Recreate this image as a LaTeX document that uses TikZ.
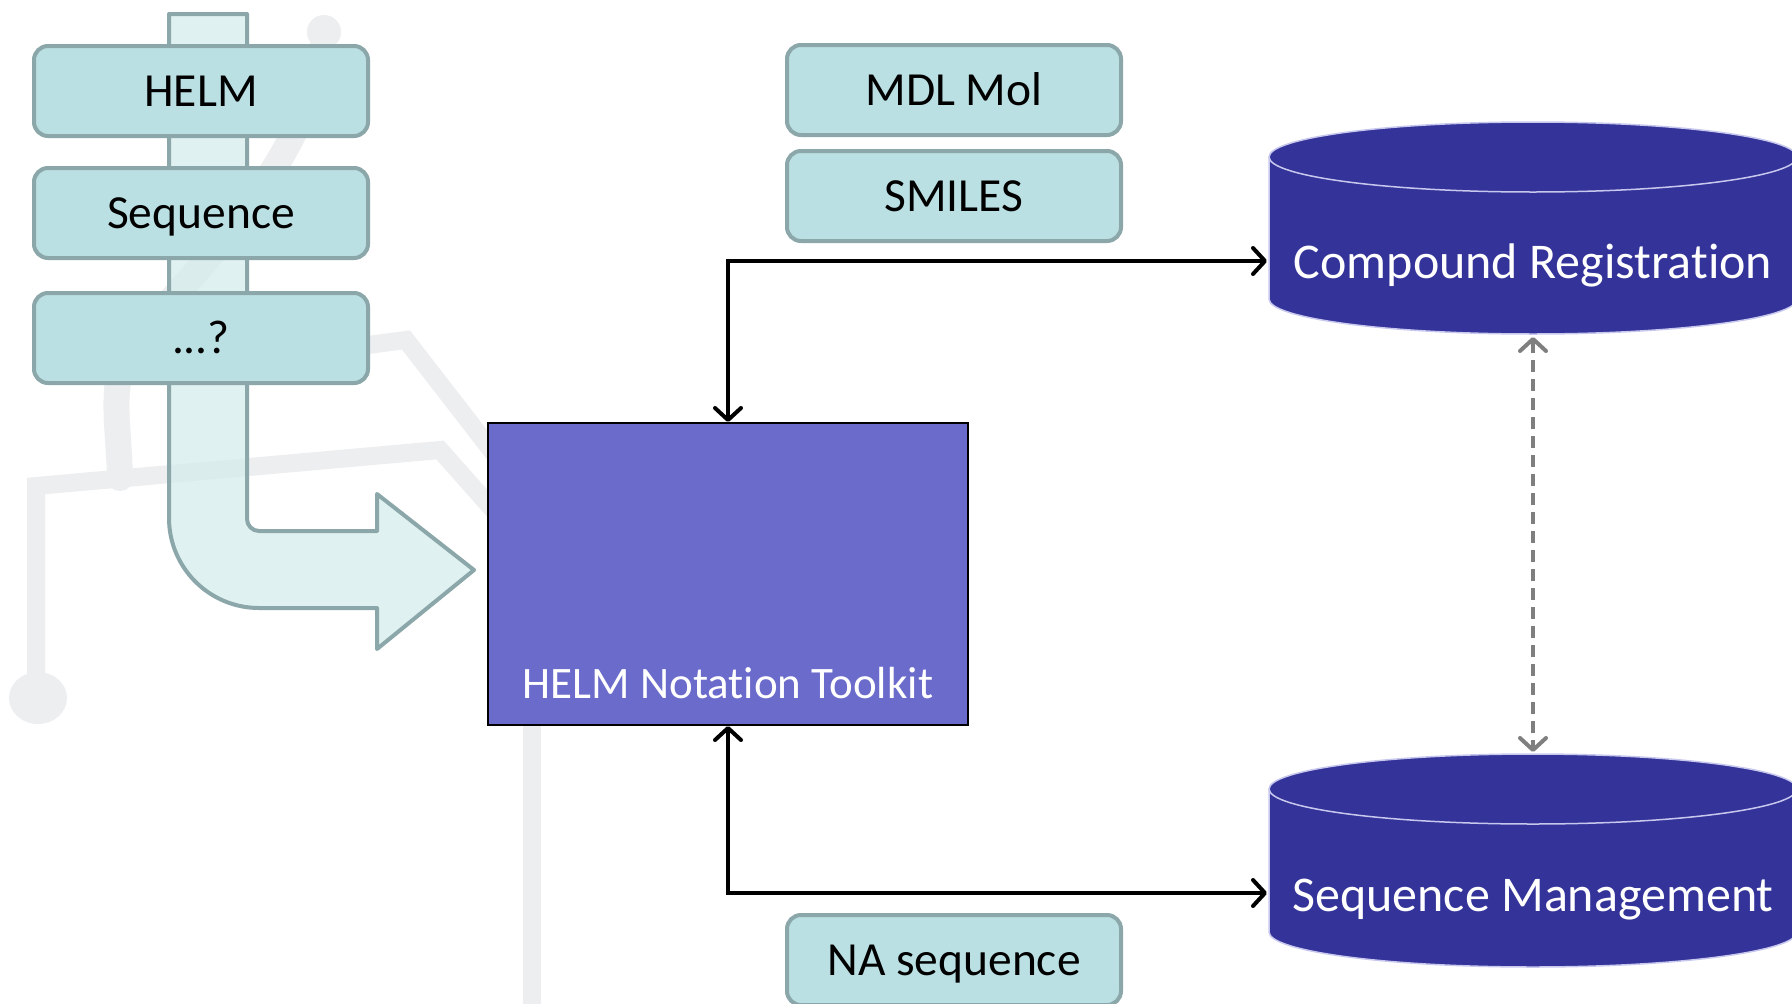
\documentclass[tikz,border=0pt]{standalone}
\usepackage{fontspec}
\setmainfont{Carlito}[RawFeature={-liga;-clig;-calt;-dlig}]
\usetikzlibrary{arrows.meta}
\definecolor{tealfill}{HTML}{BAE0E3}
\definecolor{tealline}{HTML}{8BA7A9}
\definecolor{stemfill}{HTML}{D4ECEC}
\definecolor{wmgrey}{HTML}{EDEEF0}
\definecolor{tkfill}{HTML}{6B6BCC}
\definecolor{cylfill}{HTML}{333399}
\definecolor{cyledge}{HTML}{C8C8EE}
\definecolor{dashgrey}{HTML}{7F7F7F}
\newcommand{\nolig}{\kern0pt }
\tikzset{
  fmtbox/.style={draw=tealline, fill=tealfill, line width=4pt, rounded corners=14pt,
    minimum width=334pt, minimum height=90pt, inner sep=0pt, text height=31pt, text depth=0pt,
    font=\fontsize{47.5}{56}\selectfont, text=black},
  wm/.style={draw=wmgrey, line width=18pt},
  conn/.style={draw=black, line width=4pt, {Straight Barb[length=12pt,width=26pt,round]}-{Straight Barb[length=12pt,width=26pt,round]}},
  dconn/.style={draw=dashgrey, line width=4pt, dash pattern=on 12pt off 7pt,
    {Straight Barb[length=12pt,width=26pt,round]}-{Straight Barb[length=12pt,width=26pt,round]}},
  cylbody/.style={fill=cylfill, draw=cyledge, line width=1.5pt},
  cyltext/.style={text=white, font=\fontsize{50}{60}\selectfont, inner sep=0pt, text height=32pt, text depth=0pt},
  tkbox/.style={draw=black, fill=tkfill, line width=2pt, minimum width=480pt, minimum height=302pt, inner sep=0pt},
  tktext/.style={text=white, font=\fontsize{45}{54}\selectfont, inner sep=0pt, text height=29pt, text depth=0pt},
  stem/.style={fill=stemfill, fill opacity=0.7, draw=tealline, line width=4pt, line join=round},
}
\begin{document}
\begin{tikzpicture}[x=1pt, y=-1pt]
\useasboundingbox (0,0) rectangle (1792,1004);
\clip (0,0) rectangle (1792,1004);
\fill[white] (0,0) rectangle (1792,1004);

% faint background watermark
\draw[wm, line width=26pt, line cap=round] (324,30) .. controls (320,140) and (205,265) .. (150,322) .. controls (104,370) and (118,405) .. (120,478);
\fill[wmgrey] (324,32) circle [radius=17];
\draw[wm, line join=miter] (36,690) -- (36,486) -- (440,450) -- (495,512);
\draw[wm] (360,346) -- (406,340) -- (495,455);
\fill[wmgrey] (38,698) ellipse [x radius=29, y radius=26];
\draw[wm] (532,720) -- (532,1010);

% bent arrow with stem
\path[stem] (169,14) -- (247,14) -- (247,519) .. controls (247,525.6) and (252.4,531) .. (259,531)
  -- (377,531) -- (377,494) -- (474,570) -- (377,649) -- (377,608) -- (259,608)
  .. controls (209.3,608) and (169,567.7) .. (169,518) -- cycle;

% format boxes
\node[fmtbox] (helm) at (201,91) {HELM};
\node[fmtbox] (seq) at (201,213) {Sequence};
\node[fmtbox] (other) at (201,338) {...?};
\node[fmtbox] (mdl) at (954,90) {MDL Mol};
\node[fmtbox] (smiles) at (954,196) {SMILES};
\node[fmtbox] (na) at (954,960) {NA sequence};

% toolkit
\node[tkbox] (tk) at (728,574) {};
\node[tktext] (tklabel) at (728,684) {HELM Notat\nolig ion Toolkit};

% cylinders
\path[cylbody] (1269,157) -- (1269,299) .. controls (1269,318.3) and (1387.2,334) .. (1533,334)
  .. controls (1678.8,334) and (1797,318.3) .. (1797,299) -- (1797,157);
\path[cylbody] (1533,157) ellipse [x radius=264, y radius=35];
\node[cyltext] (cr) at (1533,262) {Compound Registrat\nolig ion};

\path[cylbody] (1269,789) -- (1269,932) .. controls (1269,951.3) and (1387.2,967) .. (1533,967)
  .. controls (1678.8,967) and (1797,951.3) .. (1797,932) -- (1797,789);
\path[cylbody] (1533,789) ellipse [x radius=264, y radius=35];
\node[cyltext] (sm) at (1533,895) {Sequence Management};

\coordinate (cr-w) at (1267,261);
\coordinate (sm-w) at (1267,893);
\coordinate (cr-s) at (1533,337);
\coordinate (sm-n) at (1533,752);

% connectors
\draw[conn] (tk.north) |- (cr-w);
\draw[conn] (tk.south) |- (sm-w);
\draw[dconn] (cr-s) -- (sm-n);
\end{tikzpicture}
\end{document}
